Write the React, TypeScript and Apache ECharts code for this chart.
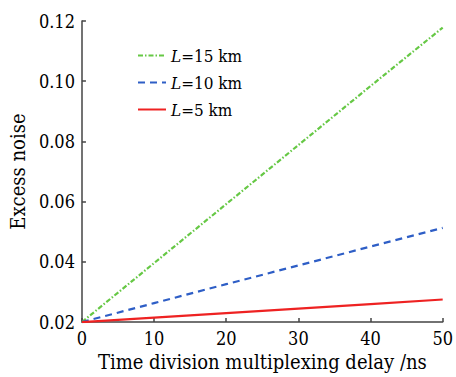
import React, { useEffect, useRef } from "react";
import * as echarts from "echarts";

const xValues = [0, 10, 20, 30, 40, 50];
const l15 = [0.02, 0.0396, 0.0592, 0.0788, 0.0984, 0.1178];
const l10 = [0.02, 0.0263, 0.0326, 0.0388, 0.0451, 0.0513];
const l5 = [0.02, 0.0215, 0.023, 0.0245, 0.026, 0.0275];
const seriesNames = ["L=15 km", "L=10 km", "L=5 km"];
const xTitle = "Time division multiplexing delay /ns";
const yTitle = "Excess noise";

const FONT = "'DejaVu Serif Condensed', 'DejaVu Serif', serif";

export default function App() {
  const ref = useRef<HTMLDivElement>(null);
  useEffect(() => {
    if (!ref.current) return;
    const chart = echarts.init(ref.current, undefined, { renderer: "svg" });
    const pair = (ys: number[]) => xValues.map((x, i) => [x, ys[i]]);
    const axisCommon = {
      axisLine: { show: true, lineStyle: { color: "#444", width: 1.5 } },
      axisTick: { show: true, inside: true, length: 4, lineStyle: { color: "#444", width: 1.5 } },
      splitLine: { show: false },
      axisLabel: { color: "#000", fontFamily: FONT, fontSize: 18 },
      nameTextStyle: { color: "#000", fontFamily: FONT, fontSize: 20 },
    };
    chart.setOption({
      animation: false,
      backgroundColor: "#fff",
      grid: { left: 79, right: 10, top: 21, bottom: 49, containLabel: false },
      legend: {
        left: 132,
        top: 42,
        orient: "vertical",
        itemWidth: 28,
        itemHeight: 14,
        itemGap: 10,
        itemStyle: { opacity: 0 },
        data: seriesNames,
        formatter: (name: string) => `{i|L}{n|${name.slice(1)}}`,
        textStyle: {
          rich: {
            i: { fontFamily: FONT, fontSize: 17, fontStyle: "italic", color: "#000" },
            n: { fontFamily: FONT, fontSize: 17, color: "#000" },
          },
        },
      },
      xAxis: {
        type: "value",
        min: 0,
        max: 50,
        interval: 10,
        name: xTitle,
        nameLocation: "middle",
        nameGap: 28,
        ...axisCommon,
        axisLabel: { ...axisCommon.axisLabel, margin: 7 },
      },
      yAxis: {
        type: "value",
        min: 0.02,
        max: 0.12,
        interval: 0.02,
        name: yTitle,
        nameLocation: "middle",
        nameGap: 53,
        ...axisCommon,
        axisLabel: {
          ...axisCommon.axisLabel,
          margin: 7,
          formatter: (v: number) => v.toFixed(2),
        },
      },
      series: [
        {
          name: seriesNames[0],
          type: "line",
          symbol: "none",
          data: pair(l15),
          lineStyle: { color: "#66c845", width: 2.2, type: [5, 2, 1.5, 2] },
          itemStyle: { color: "#66c845" },
        },
        {
          name: seriesNames[1],
          type: "line",
          symbol: "none",
          data: pair(l10),
          lineStyle: { color: "#2e5ec6", width: 2.2, type: [7, 5] },
          itemStyle: { color: "#2e5ec6" },
        },
        {
          name: seriesNames[2],
          type: "line",
          symbol: "none",
          data: pair(l5),
          lineStyle: { color: "#ee2222", width: 2.2 },
          itemStyle: { color: "#ee2222" },
        },
      ],
    });
    return () => chart.dispose();
  }, []);
  return <div ref={ref} style={{ width: 456, height: 377, position: "absolute", left: 0, top: 0 }} />;
}
